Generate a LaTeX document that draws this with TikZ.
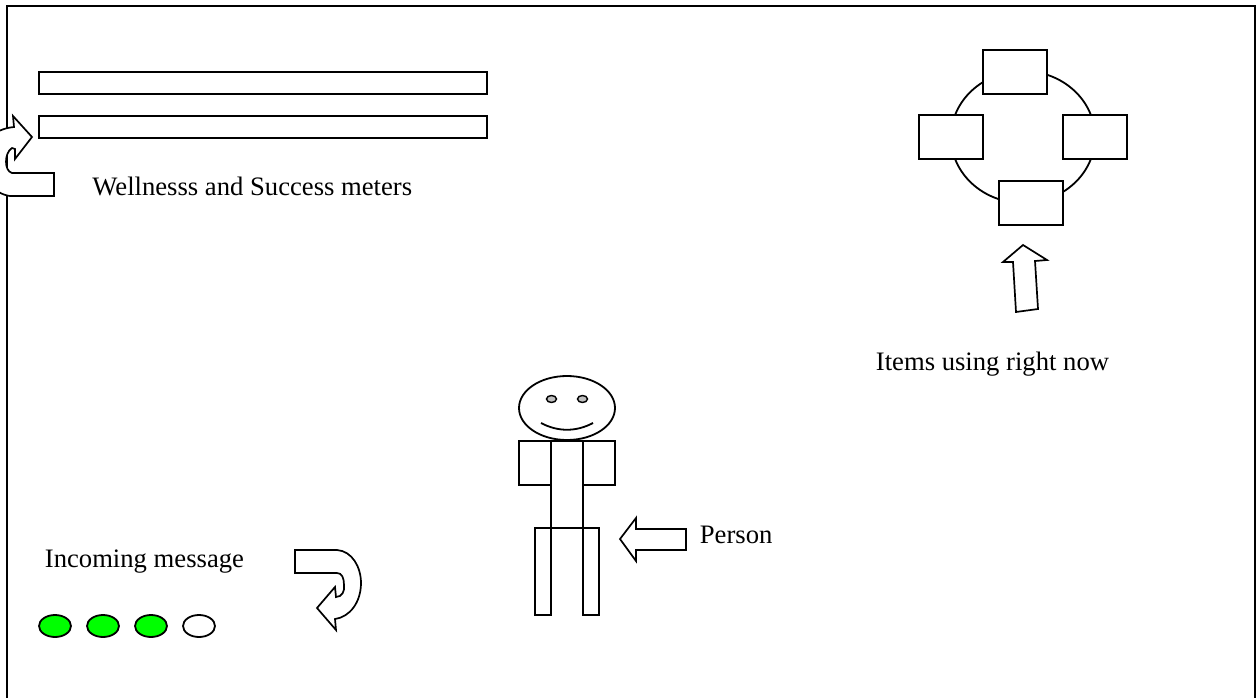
\documentclass[tikz,border=0pt]{standalone}
\usepackage{fontspec}
\setmainfont{Liberation Serif}
\usetikzlibrary{shapes.geometric}
\tikzset{
  box/.style={draw=black,fill=white,rectangle,inner sep=0pt,outer sep=0pt,minimum width=#1},
  box/.default=64pt,
  lab/.style={anchor=base west,inner sep=0pt,font=\fontsize{26.65}{30}\selectfont},
  dot/.style={draw=black,ellipse,inner sep=0pt,minimum width=32pt,minimum height=22pt},
  blockarrow/.style={draw=black,fill=white,line width=1.7pt}
}
\begin{document}
\begin{tikzpicture}[x=1pt,y=-1pt,line width=1.8pt]
\useasboundingbox (0,0) rectangle (1256,698);
\begin{scope}
\clip (0,0) rectangle (1256,698);
% frame
\coordinate (fa) at (7,710);
\coordinate (fb) at (7,6);
\coordinate (fc) at (1255,6);
\coordinate (fd) at (1255,710);
\draw (fa) -- (fb) -- (fc) -- (fd);
% meters
\node[box=448pt,minimum height=22pt] (m1) at (263,83) {};
\node[box=448pt,minimum height=22pt] (m2) at (263,127) {};
% bent arrow up
\draw[blockarrow] (54,173) -- (12,173) .. controls (4,171) and (4,153) .. (12,148) -- (15,149) -- (15,159) -- (32,137) -- (13,116) -- (14,127) .. controls (-8,129) and (-22,145) .. (-20,162) .. controls (-18,178) and (-6,194) .. (10,196) -- (54,196) -- cycle;
\node[lab] (t1) at (91.5,196) {Wellnesss and Success meters};
% items
\draw (1023,137) ellipse [x radius=72,y radius=66];
\node[box,minimum height=44pt] (i1) at (1015,72) {};
\node[box,minimum height=44pt] (i2) at (951,137) {};
\node[box,minimum height=44pt] (i3) at (1095,137) {};
\node[box,minimum height=44pt] (i4) at (1031,203) {};
\draw[blockarrow] (1023,245) -- (1003,262) -- (1013,262) -- (1016,312) -- (1038,309) -- (1035,261) -- (1047,260) -- cycle;
\node[lab] (t2) at (875,370) {Items using right now};
% person
\node[box=32pt,minimum height=87pt] (torso) at (567,484.5) {};
\node[box=32pt,minimum height=44pt] (arml) at (535,463) {};
\node[box=32pt,minimum height=44pt] (armr) at (599,463) {};
\node[box=16pt,minimum height=87pt] (legl) at (543,571.5) {};
\node[box=16pt,minimum height=87pt] (legr) at (591,571.5) {};
\draw (551,528) -- (583,528);
\node[draw=black,fill=white,ellipse,inner sep=0pt,minimum width=96pt,minimum height=64pt] (head) at (567,408) {};
\node[draw=black,fill=black!25,ellipse,inner sep=0pt,minimum width=10pt,minimum height=7pt,line width=1.4pt] (el) at (551.5,399) {};
\node[draw=black,fill=black!25,ellipse,inner sep=0pt,minimum width=10pt,minimum height=7pt,line width=1.4pt] (er) at (582.5,399) {};
\draw (541,423) .. controls (558,432) and (576,432) .. (593,423);
\draw[blockarrow] (620,539) -- (636,518) -- (636,529) -- (686,529) -- (686,550) -- (636,550) -- (636,561) -- cycle;
\node[lab] (t3) at (699,543) {Person};
% message
\node[lab] (t4) at (44,567) {Incoming message};
\draw[blockarrow] (295,550) -- (337,550) .. controls (352,551) and (361,567) .. (361,583) .. controls (361,602) and (350,617) .. (335,619) -- (336,630) -- (317,608) -- (335,587) -- (336,597) .. controls (342,597) and (345,591) .. (344,585) .. controls (344,578) and (342,573) .. (337,573) -- (295,573) -- cycle;
\node[dot,fill=green] (d1) at (55,626) {};
\node[dot,fill=green] (d2) at (103,626) {};
\node[dot,fill=green] (d3) at (151,626) {};
\node[dot,fill=white] (d4) at (199,626) {};
\end{scope}
\end{tikzpicture}
\end{document}
